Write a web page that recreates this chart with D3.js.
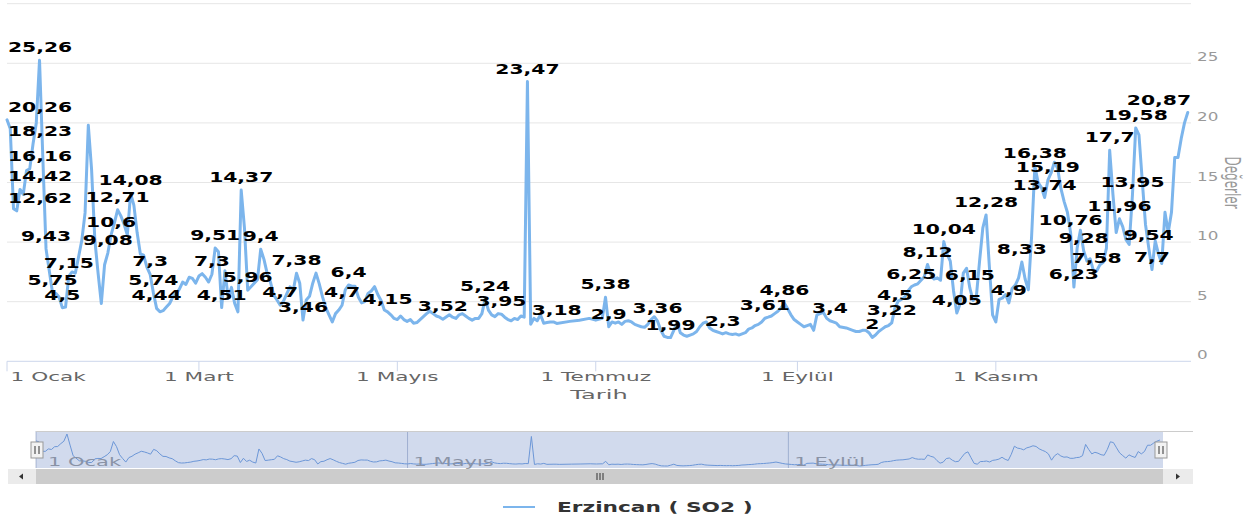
<!DOCTYPE html>
<html><head><meta charset="utf-8">
<script src="https://cdn.jsdelivr.net/npm/d3@7"></script>
<style>
html,body{margin:0;padding:0;background:#fff;overflow:hidden;}
svg{display:block;}
</style></head>
<body><svg id="c" width="1247" height="519"></svg>
<script>
// ---------------- DATA ----------------
const year = 2023;
const seriesName = "Erzincan ( SO2 )";
const xTitle = "Tarih";
const yTitle = "Değerler";
// daily SO2 values, index = day of year (0 = 1 Ocak); null = no reading
const so2Daily = [
  20.26,19.5,12.8,12.62,14.42,14.0,16.0,16.16,18.23,20.0,
  25.26,17.2,9.43,null,5.75,5.7,5.4,4.5,4.55,7.15,
  7.5,7.4,8.75,10.15,12.45,19.8,16.1,10.2,7.4,4.85,
  8.1,9.08,10.6,11.6,12.71,12.2,11.5,10.6,14.08,13.1,
  10.8,9.0,8.9,7.9,7.3,5.74,4.44,4.15,4.25,4.55,
  4.85,5.4,5.65,6.05,6.65,6.45,7.05,6.95,6.55,7.15,
  7.35,7.05,6.65,7.3,9.51,9.2,4.51,7.6,5.3,6.2,
  4.85,4.15,14.37,11.2,5.96,6.25,6.55,6.85,9.4,8.55,
  7.35,6.65,5.55,5.15,4.7,5.05,5.65,6.25,5.95,7.38,
  6.55,3.46,5.15,5.45,6.55,7.4,6.5,5.4,4.5,3.9,
  3.3,4.0,4.3,4.7,6.0,6.4,6.3,6.3,5.4,4.9,
  5.0,5.7,5.9,6.26,5.6,5.1,4.3,4.15,3.9,3.6,
  3.5,3.8,3.5,3.35,3.5,3.2,3.25,3.5,3.75,4.0,
  4.2,4.0,3.8,3.7,3.52,null,3.9,3.7,3.6,3.9,
  4.0,3.8,3.6,3.45,3.6,3.6,4.0,5.24,4.3,3.9,
  3.75,4.0,3.95,3.7,3.5,3.4,3.6,3.5,3.8,3.7,
  23.47,3.1,3.6,3.4,3.9,3.2,3.25,3.3,3.3,3.18,
  null,null,null,3.35,null,null,3.45,null,null,3.6,
  null,3.45,null,3.6,5.38,2.9,3.3,3.2,3.3,3.1,
  3.35,3.4,3.3,3.1,3.0,2.9,2.85,3.1,3.5,3.74,
  3.36,2.6,2.1,2.0,1.99,2.6,3.3,2.4,2.2,2.1,
  2.2,2.3,2.5,2.9,3.2,3.3,2.8,2.6,2.5,2.4,
  2.3,2.4,2.3,2.25,2.3,2.2,2.3,2.4,2.7,2.8,
  3.0,3.1,3.3,3.61,3.7,3.8,4.0,4.2,4.5,4.86,
  4.4,3.9,3.5,3.3,3.1,2.9,3.0,3.1,2.6,3.9,
  4.0,4.1,3.6,3.4,3.3,3.2,2.9,null,2.8,2.7,
  2.6,2.5,2.5,2.6,2.6,2.4,2.0,2.2,2.5,2.7,
  2.9,3.0,3.22,4.5,5.05,5.2,5.4,5.9,6.25,6.4,
  6.5,6.8,7.1,8.12,7.3,6.9,7.0,6.8,10.04,9.0,
  8.4,5.9,4.05,4.8,7.4,7.8,6.15,5.1,5.4,8.4,
  11.2,12.28,8.0,3.9,3.3,5.2,5.3,5.6,4.9,6.1,
  6.4,7.0,8.33,6.9,6.0,10.5,16.38,15.0,14.6,13.74,
  15.19,15.8,16.7,16.2,14.5,13.4,12.5,10.76,6.23,9.5,
  11.0,9.28,8.4,8.6,7.6,7.58,8.1,8.3,9.5,17.7,
  14.0,10.8,11.96,11.3,10.2,9.8,13.95,19.58,19.0,15.2,
  11.5,9.54,7.7,10.1,9.0,8.2,12.5,10.8,12.5,17.1,
  17.1,18.7,20.0,20.87
];
// days whose value carries a data label
const labelDays = [0,3,4,7,8,10,12,14,17,19,31,32,34,38,44,45,46,63,64,66,72,74,78,84,89,91,
  103,105,117,134,147,152,160,169,184,185,200,204,220,233,239,253,266,272,273,278,283,288,
  292,296,301,308,312,316,319,320,327,328,331,335,339,342,346,347,351,352,363];
const monthNames = ["Ocak","Şubat","Mart","Nisan","Mayıs","Haziran","Temmuz","Ağustos","Eylül","Ekim","Kasım","Aralık"];
const xTickMonths = [0,2,4,6,8,10];
const navTickMonths = [0,4,8];
const yTicks = [0,5,10,15,20,25,30];
const yTickLabels = ["0","5","10","15","20","25",""];

// ---------------- CHART ----------------
const FONT = '"DejaVu Sans", Verdana, sans-serif';
const svg = d3.select('#c');
const start = new Date(year,0,1);
const end = new Date(year,11,31);
const points = so2Daily.map((v,i)=>({date:d3.timeDay.offset(start,i), v})).filter(p=>p.v!==null);

const P = {l:7, r:1191, b:361.3, t:3.7};
const x = d3.scaleTime().domain([start,end]).range([P.l,P.r]);
const y = d3.scaleLinear().domain([0,30]).range([P.b,P.t]);

function sText(parent, str, o){
  const t = parent.append('text').text(str)
    .attr('font-family', FONT).attr('font-size', o.size)
    .attr('font-weight', o.weight||'normal').attr('fill', o.fill)
    .attr('text-anchor', o.anchor||'start');
  t.attr('transform', `translate(${o.x},${o.y}) scale(${o.sx||1},1)`);
  return t;
}

// grid
const grid = svg.append('g');
yTicks.forEach(t=>{
  grid.append('line').attr('x1',P.l).attr('x2',P.r).attr('y1',y(t)).attr('y2',y(t))
    .attr('stroke', t===0 ? '#ccd6eb' : '#e6e6e6').attr('stroke-width',1);
});
// right axis labels
yTicks.forEach((t,i)=>{
  if (yTickLabels[i]) sText(svg, yTickLabels[i], {x:P.r+6, y:y(t)-2, size:12, fill:'#999', sx:1.4});
});
// y title rotated
svg.append('text').text(yTitle)
  .attr('font-family',FONT).attr('font-size',12).attr('fill','#999')
  .attr('text-anchor','middle')
  .attr('transform',`translate(1225,${(P.t+P.b)/2}) rotate(90) scale(1,1.7)`);

// x axis ticks + labels
const xa = svg.append('g');
xTickMonths.forEach(m=>{
  const d = new Date(year,m,1);
  const px = x(d);
  xa.append('line').attr('x1',px).attr('x2',px).attr('y1',P.b).attr('y2',P.b+10)
    .attr('stroke','#ccd6eb');
  const sx = 1.8;
  const t = sText(xa, '1 '+monthNames[m], {x:px, y:381, size:12, fill:'#666', sx, anchor:'middle'});
  const w = t.node().getBBox().width*sx;
  const cx = Math.max(px, P.l + 3 + w/2);
  t.attr('transform',`translate(${cx},381) scale(${sx},1)`);
});
sText(svg, xTitle, {x:(P.l+P.r)/2, y:399, size:13, fill:'#666', sx:1.85, anchor:'middle'});

// series line
const line = d3.line().x(p=>x(p.date)).y(p=>y(p.v));
svg.append('path').datum(points).attr('d',line)
  .attr('fill','none').attr('stroke','#7cb5ec').attr('stroke-width',3)
  .attr('stroke-linejoin','round').attr('stroke-linecap','round');

// data labels
const lg = svg.append('g');
labelDays.forEach(dd=>{
  const v = so2Daily[dd];
  const px = x(d3.timeDay.offset(start,dd));
  const sx = 1.45;
  const t = sText(lg, String(v).replace('.',','), {x:px, y:y(v)-8, size:14, weight:'bold', fill:'#000', sx, anchor:'middle'});
  const w = t.node().getBBox().width*sx;
  const cx = Math.min(Math.max(px, P.l + 1 + w/2), P.r - w/2);
  t.attr('transform',`translate(${cx},${y(v)-8}) scale(${sx},1)`);
});

// ---------------- NAVIGATOR ----------------
const N = {l:36, r:1163, t:431, b:468};
const xn = d3.scaleTime().domain([start,end]).range([N.l,N.r]);
const yn = d3.scaleLinear().domain(d3.extent(points,p=>p.v)).range([466,434]);
const nav = svg.append('g');
navTickMonths.forEach(m=>{
  const px = xn(new Date(year,m,1));
  nav.append('line').attr('x1',px).attr('x2',px).attr('y1',N.t).attr('y2',N.b).attr('stroke','#b8c2d6');
});
nav.append('path').datum(points)
  .attr('d', d3.line().x(p=>xn(p.date)).y(p=>yn(p.v)))
  .attr('fill','none').attr('stroke','#6f9fe0').attr('stroke-width',1);
navTickMonths.forEach(m=>{
  const px = xn(new Date(year,m,1));
  sText(nav, '1 '+monthNames[m], {x:Math.max(px+6, N.l+12), y:466, size:12, fill:'#999', sx:1.75});
});
nav.append('rect').attr('x',N.l).attr('y',N.t).attr('width',N.r-N.l).attr('height',N.b-N.t)
  .attr('fill','rgba(102,133,194,0.3)');
nav.append('line').attr('x1',N.l).attr('x2',1193).attr('y1',N.t+0.5).attr('y2',N.t+0.5).attr('stroke','#cccccc');
[N.l+1, N.r-2].forEach(hx=>{
  const g = nav.append('g');
  g.append('rect').attr('x',hx-6).attr('y',442).attr('width',12).attr('height',16)
    .attr('fill','#f2f2f2').attr('stroke','#999');
  [-2,2].forEach(o=>g.append('line').attr('x1',hx+o).attr('x2',hx+o).attr('y1',446).attr('y2',454).attr('stroke','#333'));
});

// scrollbar
const sb = svg.append('g');
sb.append('rect').attr('x',8).attr('y',469).attr('width',1185).attr('height',15).attr('fill','#f2f2f2');
sb.append('rect').attr('x',8).attr('y',469).attr('width',28).attr('height',15).attr('fill','#ebebeb');
sb.append('rect').attr('x',N.r).attr('y',469).attr('width',30).attr('height',15).attr('fill','#ebebeb');
sb.append('rect').attr('x',N.l).attr('y',469).attr('width',N.r-N.l).attr('height',15).attr('fill','#cccccc');
const gx = (N.l+N.r)/2;
[-3,0,3].forEach(o=>sb.append('line').attr('x1',gx+o+0.5).attr('x2',gx+o+0.5).attr('y1',473).attr('y2',480).attr('stroke','#333'));
sb.append('path').attr('d','M19,476.5 L23,473.5 L23,479.5 Z').attr('fill','#333');
sb.append('path').attr('d','M1180,476.5 L1176,473.5 L1176,479.5 Z').attr('fill','#333');

// legend
svg.append('line').attr('x1',503).attr('x2',535).attr('y1',507).attr('y2',507)
  .attr('stroke','#7cb5ec').attr('stroke-width',2);
sText(svg, seriesName, {x:557, y:512, size:14, weight:'bold', fill:'#333', sx:1.55});
</script>
</body></html>
